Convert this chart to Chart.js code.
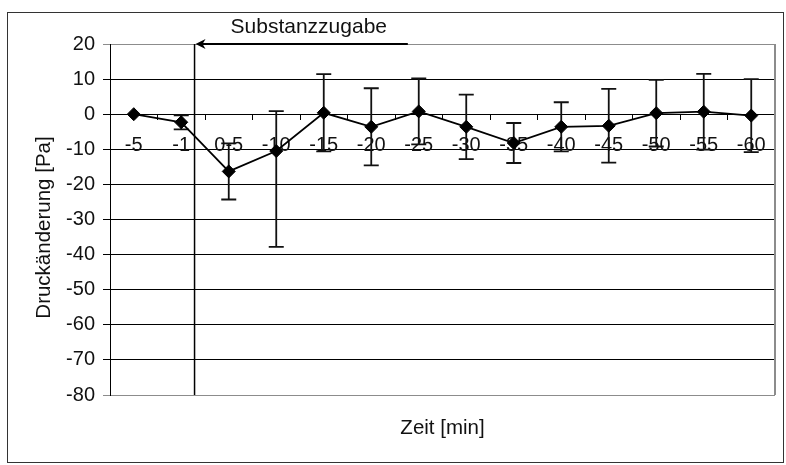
<!DOCTYPE html>
<html>
<head>
<meta charset="utf-8">
<script src="https://cdn.jsdelivr.net/npm/chart.js@4.4.1/dist/chart.umd.min.js"></script>
<style>
  html, body { margin: 0; padding: 0; background: #fff; }
  #wrap { width: 786px; height: 465px; }
</style>
</head>
<body>
<div id="wrap"><canvas id="pressureChart" width="786" height="465"></canvas></div>
<script>
// Zeitpunkte (min) relativ zur Substanzzugabe
const timeLabels = ['-5', '-1', '0-5', '-10', '-15', '-20', '-25', '-30', '-35', '-40', '-45', '-50', '-55', '-60'];
// mittlere Druckänderung [Pa]
const meanChange = [0, -2.3, -16.3, -10.5, 0.4, -3.6, 0.8, -3.6, -8.2, -3.6, -3.3, 0.3, 0.7, -0.4];
// Fehlerbalken nach oben / unten
const errPlus  = [0, 2.0, 8.0, 11.4, 11.0, 11.0, 9.4, 9.2, 5.7, 7.0, 10.5, 9.5, 10.8, 10.4];
const errMinus = [0, 2.0, 8.0, 27.3, 11.0, 11.0, 9.4, 9.2, 5.7, 7.0, 10.5, 9.5, 10.8, 10.4];

// Lage der Substanzzugabe und Pfeilende (Kategorie-Index)
const injectionAt = 1.28;
const arrowTailAt = 5.77;

const FONT = '"Liberation Sans", Arial, sans-serif';

const framePlugin = {
  id: 'frame',
  beforeDraw(chart) {
    const ctx = chart.ctx;
    ctx.save();
    ctx.fillStyle = '#fff';
    ctx.fillRect(0, 0, chart.width, chart.height);
    ctx.strokeStyle = '#333';
    ctx.lineWidth = 1;
    ctx.strokeRect(7.5, 12.5, 776, 450);
    ctx.restore();
  },
  beforeDatasetsDraw(chart) {
    // rechter Rand der Zeichenfläche
    const { ctx, chartArea: a } = chart;
    ctx.save();
    ctx.strokeStyle = '#8c8c8c';
    ctx.lineWidth = 2;
    ctx.beginPath();
    ctx.moveTo(a.right, a.top);
    ctx.lineTo(a.right, a.bottom);
    ctx.stroke();
    ctx.restore();
  }
};

const errorBarPlugin = {
  id: 'errorBars',
  beforeDatasetsDraw(chart) {
    const { ctx } = chart;
    const y = chart.scales.y;
    const pts = chart.getDatasetMeta(0).data;
    ctx.save();
    ctx.strokeStyle = '#111';
    ctx.lineWidth = 1.8;
    pts.forEach((p, i) => {
      if (!errPlus[i] && !errMinus[i]) return;
      const top = y.getPixelForValue(meanChange[i] + errPlus[i]);
      const bot = y.getPixelForValue(meanChange[i] - errMinus[i]);
      ctx.beginPath();
      ctx.moveTo(p.x, top);
      ctx.lineTo(p.x, bot);
      ctx.moveTo(p.x - 7.5, top);
      ctx.lineTo(p.x + 7.5, top);
      ctx.moveTo(p.x - 7.5, bot);
      ctx.lineTo(p.x + 7.5, bot);
      ctx.stroke();
    });
    ctx.restore();
  }
};

const annotationPlugin = {
  id: 'annotations',
  afterDatasetsDraw(chart) {
    const { ctx, chartArea: a } = chart;
    const x = chart.scales.x;
    const lineX = x.getPixelForValue(injectionAt);
    const tailX = x.getPixelForValue(arrowTailAt);

    ctx.save();
    // Substanzzugabe: senkrechte Linie
    ctx.strokeStyle = '#000';
    ctx.lineWidth = 1.5;
    ctx.beginPath();
    ctx.moveTo(lineX, a.top);
    ctx.lineTo(lineX, a.bottom);
    ctx.stroke();

    // Pfeil
    ctx.lineWidth = 2;
    ctx.beginPath();
    ctx.moveTo(tailX, a.top);
    ctx.lineTo(lineX + 4, a.top);
    ctx.stroke();
    ctx.fillStyle = '#000';
    ctx.beginPath();
    ctx.moveTo(lineX + 1, a.top);
    ctx.lineTo(lineX + 11, a.top - 5);
    ctx.lineTo(lineX + 8, a.top);
    ctx.lineTo(lineX + 11, a.top + 5);
    ctx.closePath();
    ctx.fill();

    ctx.fillStyle = '#111';
    ctx.font = '21px ' + FONT;
    ctx.textAlign = 'left';
    ctx.textBaseline = 'middle';
    ctx.fillText('Substanzzugabe', lineX + 36, a.top - 17);

    // Achsentitel
    ctx.font = '20.5px ' + FONT;
    ctx.textAlign = 'center';
    ctx.fillText('Zeit [min]', (a.left + a.right) / 2, 428);

    ctx.translate(44, (a.top + a.bottom) / 2 + 8);
    ctx.rotate(-Math.PI / 2);
    ctx.fillText('Druckänderung [Pa]', 0, 0);
    ctx.restore();
  }
};

new Chart(document.getElementById('pressureChart'), {
  type: 'line',
  data: {
    labels: timeLabels,
    datasets: [{
      data: meanChange,
      borderColor: '#000',
      borderWidth: 1.75,
      pointStyle: 'rectRot',
      pointRadius: 6.5,
      pointBackgroundColor: '#000',
      pointBorderColor: '#000',
      pointBorderWidth: 1,
      tension: 0,
      clip: false
    }]
  },
  options: {
    responsive: false,
    animation: false,
    layout: { padding: { left: 10, top: 44, right: 11, bottom: 70 } },
    plugins: {
      legend: { display: false },
      tooltip: { enabled: false }
    },
    scales: {
      x: {
        position: { y: 0 },
        offset: true,
        grid: {
          offset: true,
          drawOnChartArea: false,
          drawTicks: true,
          tickLength: 5,
          color: '#000'
        },
        border: { color: '#000', width: 1 },
        ticks: {
          color: '#111',
          font: { family: FONT, size: 20 },
          padding: 14,
          maxRotation: 0,
          autoSkip: false
        }
      },
      y: {
        min: -80,
        max: 20,
        ticks: {
          stepSize: 10,
          color: '#111',
          font: { family: FONT, size: 20 },
          padding: 8
        },
        grid: {
          color: c => (c.tick && (c.tick.value === 20 || c.tick.value === -80)) ? '#8c8c8c' : '#000',
          lineWidth: 1,
          tickLength: 7
        },
        border: { color: '#000', width: 1 },
        afterFit: s => { s.width = 100; }
      }
    }
  },
  plugins: [framePlugin, errorBarPlugin, annotationPlugin]
});
</script>
</body>
</html>
